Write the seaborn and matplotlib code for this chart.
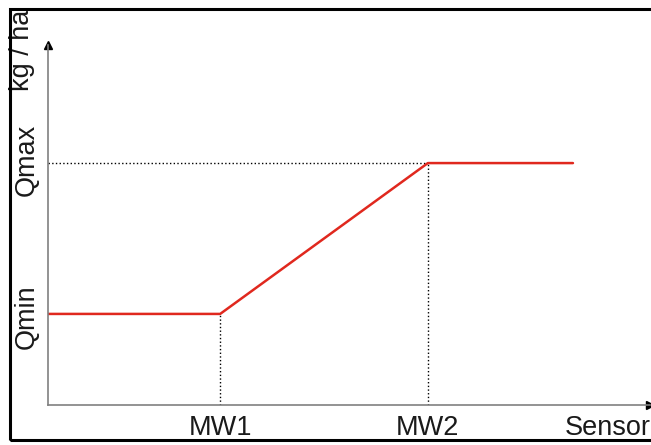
import numpy as np
import pandas as pd
import matplotlib
matplotlib.use('Agg')
import matplotlib.pyplot as plt
import seaborn as sns
from matplotlib.patches import Rectangle

# sensor value breakpoints and application rate (axis fractions)
sensor = [0.0, 0.286, 0.631, 0.872]
rate = [0.253, 0.253, 0.672, 0.672]
x_ticks = [0.286, 0.631, 0.929]
x_labels = ['MW1', 'MW2', 'Sensor']
y_ticks = [0.245, 0.68]
y_labels = ['Qmin', 'Qmax']

sns.set_style('white')
plt.rcParams['font.family'] = ['Liberation Sans', 'DejaVu Sans']
plt.rcParams['text.color'] = '#1a1a1a'
plt.rcParams['xtick.color'] = '#1a1a1a'
plt.rcParams['ytick.color'] = '#1a1a1a'

df = pd.DataFrame({'sensor': sensor, 'rate': rate})

fig = plt.figure(figsize=(6.51, 4.45), dpi=100)
ax = fig.add_axes([48/651, 40/445, 602/651, 360/445])

# outer frame (right side runs off the picture)
fig.patches.append(Rectangle((10/651, 5/445), 1.1, 431/445, transform=fig.transFigure,
                             fill=False, edgecolor='black', linewidth=2.2, zorder=5))

# dotted guide lines
ax.plot([0, sensor[2]], [rate[2], rate[2]], color='black', linestyle=':', linewidth=1)
ax.plot([sensor[1], sensor[1]], [0, rate[1]], color='black', linestyle=':', linewidth=1)
ax.plot([sensor[2], sensor[2]], [0, rate[2]], color='black', linestyle=':', linewidth=1)

sns.lineplot(data=df, x='sensor', y='rate', color='#e0281e', linewidth=1.8, ax=ax,
             sort=False)

ax.set_xlim(0, 1)
ax.set_ylim(0, 1)
for s in ['top', 'right']:
    ax.spines[s].set_visible(False)
for s in ['left', 'bottom']:
    ax.spines[s].set_color('#808080')
    ax.spines[s].set_linewidth(1.2)

# arrow heads
ax.plot(1, 0, '>k', markersize=6, transform=ax.transAxes, clip_on=False)
ax.plot(0, 1, '^k', markersize=6, transform=ax.transAxes, clip_on=False)

ax.set_xticks(x_ticks)
ax.set_xticklabels(x_labels, fontsize=19.5)
ax.set_yticks(y_ticks)
ax.set_yticklabels(y_labels, fontsize=19.5, rotation=90, va='center')
ax.tick_params(axis='x', length=0, pad=7)
ax.tick_params(axis='y', length=0, pad=6)
ax.set_xlabel('')
ax.set_ylabel('')
ax.text(-26/602, 0.985, 'kg / ha', transform=ax.transAxes, rotation=90,
        fontsize=19.5, ha='center', va='center')

fig.savefig('out.png', dpi=100)
